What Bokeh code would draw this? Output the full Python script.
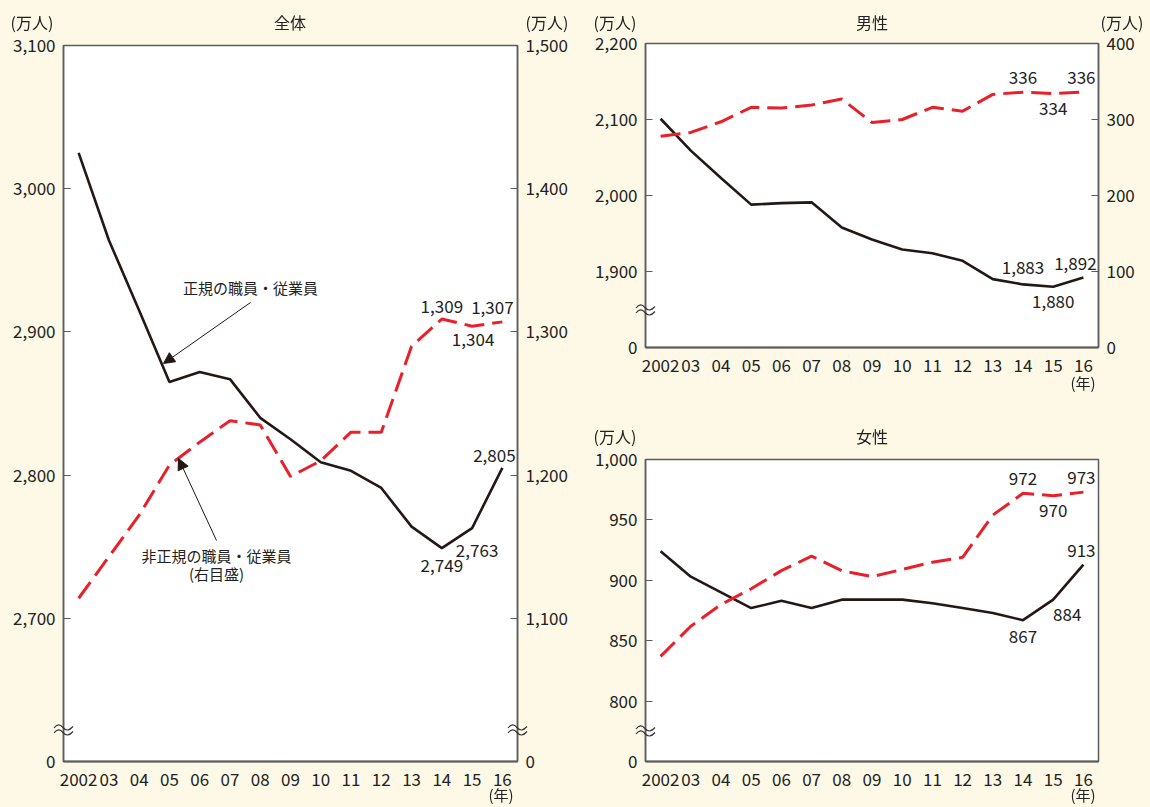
from bokeh.plotting import figure
from bokeh.models import (Range1d, LinearAxis, FixedTicker, Label, Arrow,
                          NormalHead, ColumnDataSource, Div)
from bokeh.layouts import row, column
from bokeh.embed import file_html
from bokeh.resources import INLINE
from bokeh.core.properties import value

# ---------------- data (万人) ----------------
years = list(range(2002, 2017))
year_labels = ["2002", "03", "04", "05", "06", "07", "08", "09",
               "10", "11", "12", "13", "14", "15", "16"]

total_regular = [3025, 2964, 2915, 2865, 2872, 2867, 2840, 2825, 2809,
                 2803, 2791, 2764, 2749, 2763, 2805]
total_nonregular = [1114, 1143, 1172, 1207, 1223, 1238, 1235, 1199, 1210,
                    1230, 1230, 1290, 1309, 1304, 1307]
male_regular = [2101, 2059, 2023, 1988, 1990, 1991, 1958, 1942, 1929,
                1924, 1914, 1890, 1883, 1880, 1892]
male_nonregular = [278, 283, 297, 316, 315, 319, 327, 296, 300,
                   316, 311, 333, 336, 334, 336]
female_regular = [924, 903, 890, 877, 883, 877, 884, 884, 884,
                  881, 877, 873, 867, 884, 913]
female_nonregular = [837, 862, 880, 893, 908, 920, 908, 903, 909,
                     915, 919, 954, 972, 970, 973]

panel_titles = ["全体", "男性", "女性"]
unit_label = "(万人)"
year_unit = "(年)"
regular_name = "正規の職員・従業員"
nonregular_name = "非正規の職員・従業員"
right_scale_note = "(右目盛)"

# ---------------- styles ----------------
BG = "#FDF9E6"
BLACK = "#231815"
RED = "#E8202A"
AXIS = "#5c5c5c"
TXT = "#222222"
FONT = "Noto Sans CJK JP"
TICK_FS = "17px"
VAL_FS = "17px"
DASH = "20 8"


def style_axis(a, ticks, overrides, tick_in=7, tick_out=0, standoff=8):
    a.ticker = FixedTicker(ticks=ticks)
    a.major_label_overrides = overrides
    a.minor_tick_line_color = None
    a.major_tick_in = tick_in
    a.major_tick_out = tick_out
    a.major_tick_line_color = AXIS
    a.major_tick_line_width = 1.2
    a.axis_line_color = AXIS
    a.axis_line_width = 1.5
    a.major_label_standoff = standoff
    a.major_label_text_font = FONT
    a.major_label_text_font_size = TICK_FS
    a.major_label_text_color = TXT


def fmt_ticks(ticks, zero_at):
    d = {t: f"{t:,}" for t in ticks}
    d[zero_at] = "0"
    return d


def make_panel(width, height, frame_w, frame_h, left, right, top, bottom,
               yl, yl_ticks, yr=None, yr_ticks=None):
    p = figure(width=width, height=height, frame_width=frame_w,
               frame_height=frame_h, toolbar_location=None,
               output_backend="svg",
               x_range=Range1d(2001.5, 2016.5), y_range=Range1d(*yl))
    p.min_border_left = left
    p.min_border_right = right
    p.min_border_top = top
    p.min_border_bottom = bottom
    p.background_fill_color = "white"
    p.border_fill_color = BG
    p.outline_line_color = AXIS
    p.outline_line_width = 1.5
    p.xgrid.visible = False
    p.ygrid.visible = False

    xa = p.xaxis[0]
    xa.ticker = FixedTicker(ticks=years)
    xa.major_label_overrides = {y: l for y, l in zip(years, year_labels)}
    xa.major_tick_line_color = None
    xa.minor_tick_line_color = None
    xa.axis_line_color = AXIS
    xa.axis_line_width = 2
    xa.major_label_standoff = 5
    xa.major_label_text_font = FONT
    xa.major_label_text_font_size = TICK_FS
    xa.major_label_text_color = TXT

    style_axis(p.yaxis[0], yl_ticks, fmt_ticks(yl_ticks, yl_ticks[0]))

    if yr is not None:
        p.extra_y_ranges = {"right": Range1d(*yr)}
        ra = LinearAxis(y_range_name="right")
        style_axis(ra, yr_ticks, fmt_ticks(yr_ticks, yr_ticks[0]))
        p.add_layout(ra, "right")
    return p


def px(p, fx0, fy0, fw, fh, sx, sy):
    """page pixel -> data coords of a panel (for annotation placement)."""
    xr, yr = p.x_range, p.y_range
    x = xr.start + (sx - fx0) / fw * (xr.end - xr.start)
    y = yr.end - (sy - fy0) / fh * (yr.end - yr.start)
    return x, y


def text_label(p, geo, sx, sy, text, size="15px"):
    x, y = px(p, *geo, sx, sy)
    p.add_layout(Label(x=x, y=y, text=text, text_font=FONT,
                       text_font_size=size, text_color=TXT,
                       text_align="center", text_baseline="middle"))


def value_labels(p, series, specs, range_name="default"):
    xs, ys, ts, dxs, dys = [], [], [], [], []
    for i, dx, dy in specs:
        xs.append(years[i]); ys.append(series[i]); ts.append(f"{series[i]:,}")
        dxs.append(dx); dys.append(dy)
    src = ColumnDataSource(dict(x=xs, y=ys, t=ts, dx=dxs, dy=dys))
    p.text(x="x", y="y", text="t", x_offset="dx", y_offset="dy", source=src,
           text_font=value(FONT), text_font_size=VAL_FS, text_color=TXT,
           text_align="center", text_baseline="middle",
           y_range_name=range_name)


def arrow(p, geo, s0, s1, range_name="default"):
    x0, y0 = px(p, *geo, *s0)
    x1, y1 = px(p, *geo, *s1)
    p.add_layout(Arrow(end=NormalHead(size=11, fill_color=BLACK, line_color=BLACK),
                       x_start=x0, y_start=y0, x_end=x1, y_end=y1,
                       line_color=BLACK, line_width=1, y_range_name=range_name))


# ================= 全体 =================
# page: frame x 63..517, y 45..761 ; figure placed at page y=30
p1 = make_panel(575, 777, 454, 716, 63, 58, 15, 46,
                (2600, 3100), [2600, 2700, 2800, 2900, 3000, 3100],
                yr=(1000, 1500), yr_ticks=[1000, 1100, 1200, 1300, 1400, 1500])
g1 = (63, 45, 454, 716)
p1.line(years, total_regular, line_color=BLACK, line_width=2.6)
p1.line(years, total_nonregular, line_color=RED, line_width=3,
        line_dash=DASH, y_range_name="right")
value_labels(p1, total_nonregular, [(12, 0, -13), (14, -10, -14), (13, 1, 13)],
             "right")
value_labels(p1, total_regular, [(14, -8, -12), (13, 5, 22), (12, 0, 17)])
text_label(p1, g1, 250, 287, regular_name)
text_label(p1, g1, 216, 555, nonregular_name)
text_label(p1, g1, 216, 573, right_scale_note)
arrow(p1, g1, (250, 302), (163, 363))
arrow(p1, g1, (216, 540), (178, 458))

# ================= 男性 =================
p2 = make_panel(575, 410, 453, 304, 70, 52, 43, 63,
                (1800, 2200), [1800, 1900, 2000, 2100, 2200],
                yr=(0, 400), yr_ticks=[0, 100, 200, 300, 400])
p2.line(years, male_regular, line_color=BLACK, line_width=2.6)
p2.line(years, male_nonregular, line_color=RED, line_width=3,
        line_dash=DASH, y_range_name="right")
value_labels(p2, male_nonregular, [(12, 0, -15), (14, -2, -15), (13, 0, 15)],
             "right")
value_labels(p2, male_regular, [(12, 0, -17), (14, -8, -14), (13, 0, 15)])

# ================= 女性 =================
p3 = make_panel(575, 397, 453, 302, 70, 52, 49, 46,
                (750, 1000), [750, 800, 850, 900, 950, 1000])
p3.line(years, female_regular, line_color=BLACK, line_width=2.6)
p3.line(years, female_nonregular, line_color=RED, line_width=3, line_dash=DASH)
value_labels(p3, female_nonregular, [(12, 0, -15), (14, -2, -15), (13, 0, 15)])
value_labels(p3, female_regular, [(14, -2, -14), (13, 14, 15), (12, 0, 16)])

# ============ texts outside the plot frames (page coordinates) ============
outer_texts = [
    (290, 23, panel_titles[0], 16), (32, 23, unit_label, 16),
    (547, 23, unit_label, 16), (501, 795, year_unit, 15),
    (872, 23, panel_titles[1], 16), (615, 23, unit_label, 16),
    (1122, 23, unit_label, 16), (1083, 383, year_unit, 15),
    (872, 437, panel_titles[2], 16), (615, 437, unit_label, 16),
    (1083, 795, year_unit, 15),
]
breaks = [(63, 730), (517, 730), (645, 310), (645, 731)]

html = []
for x, y, t, fs in outer_texts:
    html.append(
        f'<span style="position:fixed;left:{x}px;top:{y}px;'
        f'transform:translate(-50%,-50%);white-space:nowrap;'
        f"font-family:'{FONT}';font-size:{fs}px;color:{TXT};line-height:1.1;"
        f'z-index:10">{t}</span>')
wave = ("M1,4 C4,0 7,0 10,3.5 S16,7 20,2.5")
for x, y in breaks:
    html.append(
        f'<svg style="position:fixed;left:{x - 10}px;top:{y - 6}px;z-index:10;'
        f'overflow:visible" width="21" height="13" viewBox="0 0 21 13">'
        f'<path d="{wave}" fill="none" stroke="#333" stroke-width="1.2"/>'
        f'<path d="{wave}" transform="translate(0,5)" fill="none" '
        f'stroke="#333" stroke-width="1.2"/></svg>')

overlay = Div(text="".join(html), width=575, height=30, margin=(0, 0, 0, 0),
              styles={"background-color": BG, "overflow": "visible",
                      "z-index": "10"})

left_col = column(overlay, p1, spacing=0)
right_col = column(p2, p3, spacing=0)
layout = row(left_col, right_col, spacing=0)
layout.styles = {"background-color": BG}

open("out.html", "w").write(file_html(layout, INLINE))
